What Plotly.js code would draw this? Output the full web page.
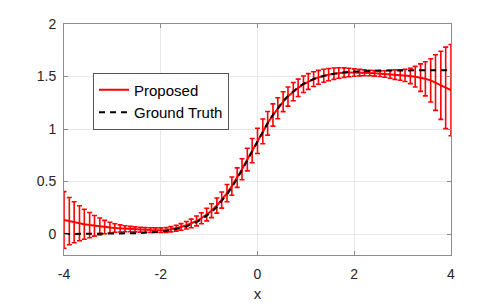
<!DOCTYPE html>
<html>
<head>
<meta charset="utf-8">
<script src="https://cdn.plot.ly/plotly-3.0.1.min.js"></script>
<style>html,body{margin:0;padding:0;background:#fff;}#chart{width:498px;height:305px;}</style>
</head>
<body>
<div id="chart"></div>
<script>
const xValues = [-4.00,-3.89,-3.79,-3.68,-3.58,-3.47,-3.37,-3.26,-3.16,-3.05,-2.95,-2.84,-2.74,-2.63,-2.53,-2.42,-2.32,-2.21,-2.11,-2.00,
  -1.89,-1.79,-1.68,-1.58,-1.47,-1.37,-1.26,-1.16,-1.05,-0.95,-0.84,-0.74,-0.63,-0.53,-0.42,-0.32,-0.21,-0.11,0.00,
  0.11,0.21,0.32,0.42,0.53,0.63,0.74,0.84,0.95,1.05,1.16,1.26,1.37,1.47,1.58,1.68,1.79,1.89,2.00,
  2.11,2.21,2.32,2.42,2.53,2.63,2.74,2.84,2.95,3.05,3.16,3.26,3.37,3.47,3.58,3.68,3.79,3.89,4.00];
const groundTruth = [0.000,0.000,0.000,0.001,0.001,0.001,0.001,0.001,0.002,0.002,0.003,0.004,0.004,0.006,0.007,0.009,0.011,0.014,0.018,0.023,
  0.029,0.036,0.046,0.057,0.072,0.090,0.113,0.138,0.173,0.210,0.259,0.311,0.377,0.445,0.527,0.608,0.702,0.789,0.884,
  0.977,1.056,1.136,1.202,1.265,1.315,1.362,1.397,1.430,1.454,1.476,1.492,1.507,1.517,1.526,1.533,1.539,1.543,1.547,
  1.550,1.552,1.553,1.555,1.556,1.557,1.557,1.558,1.558,1.559,1.559,1.559,1.560,1.560,1.560,1.560,1.560,1.560,1.560];
const proposedMean = [0.134,0.122,0.112,0.102,0.093,0.085,0.078,0.072,0.066,0.061,0.057,0.053,0.050,0.047,0.044,0.041,0.039,0.037,0.036,0.036,
  0.038,0.045,0.055,0.067,0.083,0.101,0.124,0.150,0.185,0.222,0.271,0.323,0.389,0.456,0.537,0.617,0.709,0.794,0.887,
  0.977,1.054,1.133,1.197,1.260,1.309,1.356,1.392,1.426,1.452,1.475,1.492,1.507,1.518,1.527,1.533,1.537,1.538,1.538,
  1.537,1.535,1.533,1.530,1.527,1.524,1.521,1.518,1.514,1.510,1.505,1.498,1.489,1.478,1.463,1.442,1.416,1.392,1.370];
const proposedErr = [0.270,0.225,0.195,0.167,0.143,0.120,0.098,0.080,0.064,0.051,0.041,0.034,0.029,0.026,0.024,0.023,0.022,0.022,0.022,0.022,
  0.023,0.025,0.028,0.032,0.036,0.041,0.047,0.053,0.060,0.066,0.072,0.077,0.082,0.087,0.093,0.100,0.108,0.115,0.120,
  0.118,0.112,0.106,0.100,0.095,0.091,0.087,0.083,0.079,0.075,0.070,0.066,0.062,0.058,0.054,0.050,0.045,0.040,0.035,
  0.031,0.028,0.026,0.026,0.027,0.031,0.037,0.045,0.050,0.058,0.073,0.098,0.131,0.163,0.206,0.265,0.324,0.388,0.435];
const seriesNames = ['Proposed', 'Ground Truth'];
const xTicks = [-4, -2, 0, 2, 4];
const yTicks = [0, 0.5, 1, 1.5, 2];

const fontFam = '"Liberation Sans", Arial, Helvetica, sans-serif';
const traces = [
  {
    x: xValues, y: proposedMean, type: 'scatter', mode: 'lines', name: seriesNames[0],
    line: {color: '#ff0000', width: 2},
    error_y: {type: 'data', array: proposedErr, visible: true, color: '#ff0000', thickness: 1.6, width: 2.5}
  },
  {
    x: xValues, y: groundTruth, type: 'scatter', mode: 'lines', name: seriesNames[1],
    line: {color: '#000000', width: 2, dash: '6px,5px'}
  }
];
const axisCommon = {
  showline: true, linecolor: '#8c8c8c', linewidth: 1, mirror: 'ticks',
  ticks: 'inside', ticklen: 4, tickcolor: '#8c8c8c', tickwidth: 1,
  showgrid: true, gridcolor: '#e8e8e8', gridwidth: 1, zeroline: false,
  tickfont: {family: fontFam, size: 14, color: '#262626'}
};
const layout = {
  width: 498, height: 305,
  margin: {l: 64, r: 47, t: 24, b: 50},
  paper_bgcolor: '#ffffff', plot_bgcolor: '#ffffff',
  showlegend: true,
  xaxis: Object.assign({}, axisCommon, {
    range: [-4, 4], tickvals: xTicks, ticktext: xTicks.map(String),
    ticklabelstandoff: 6,
    title: {text: 'x', font: {family: fontFam, size: 15, color: '#262626'}, standoff: 7}
  }),
  yaxis: Object.assign({}, axisCommon, {
    range: [-0.2, 2], tickvals: yTicks, ticktext: yTicks.map(String),
    ticklabelstandoff: 4
  }),
  legend: {
    x: 0.075, y: 0.79, xanchor: 'left', yanchor: 'top',
    bgcolor: '#ffffff', bordercolor: '#555555', borderwidth: 1,
    font: {family: fontFam, size: 15, color: '#000000'},
    tracegroupgap: 0, itemwidth: 30
  }
};
Plotly.newPlot('chart', traces, layout, {displayModeBar: false, staticPlot: true});
</script>
</body>
</html>
